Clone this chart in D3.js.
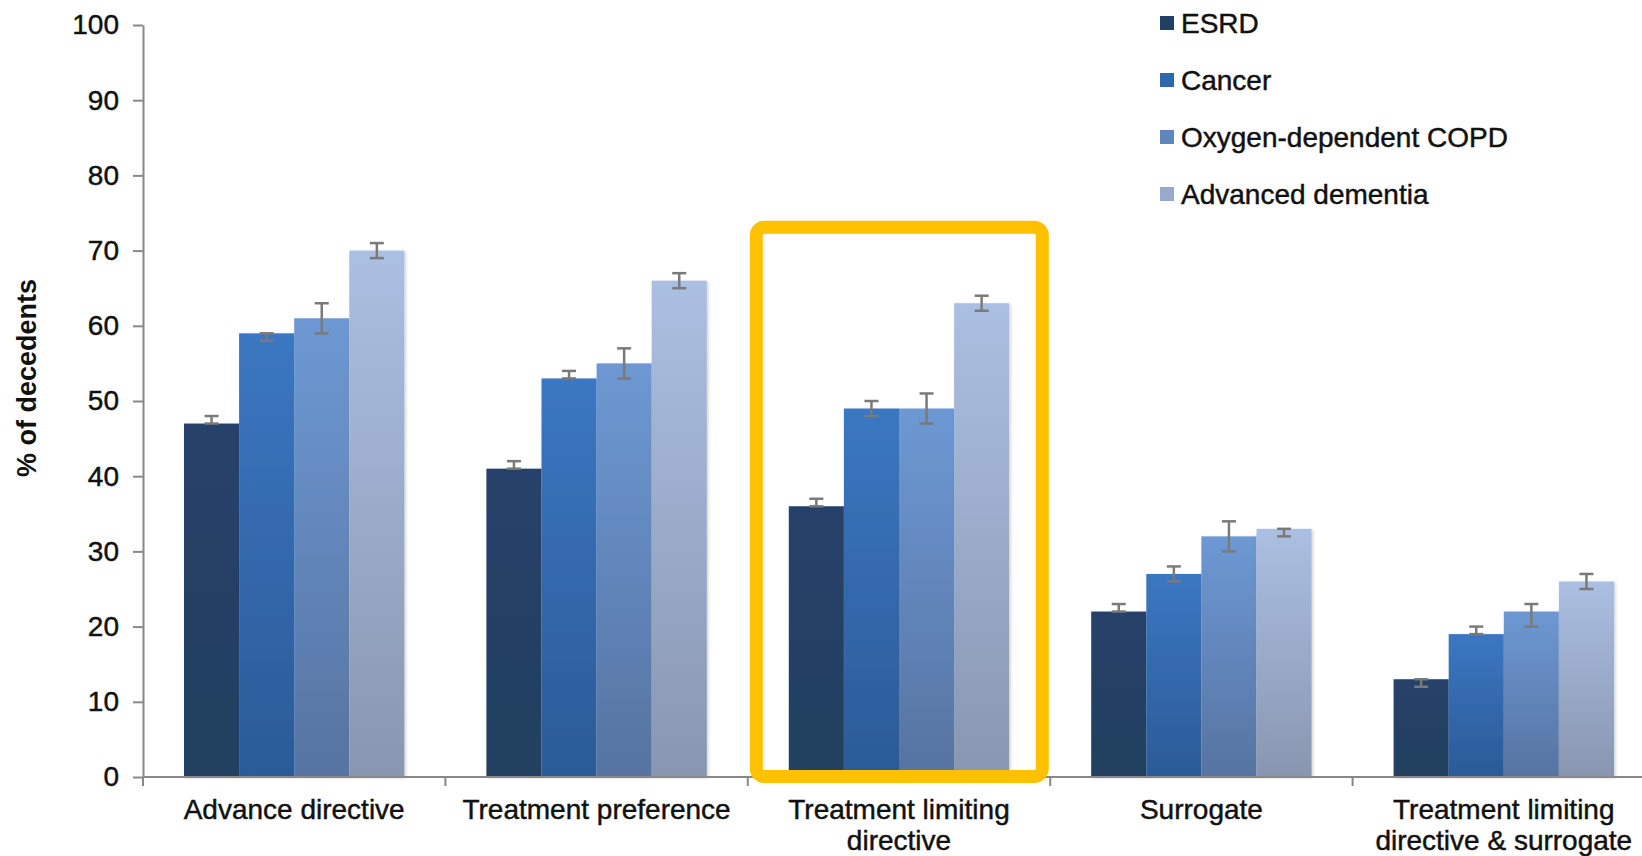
<!DOCTYPE html>
<html>
<head>
<meta charset="utf-8">
<script src="https://cdn.jsdelivr.net/npm/d3@7/dist/d3.min.js"></script>
<style>
  html, body { margin: 0; padding: 0; background: #fff; }
  svg { display: block; font-family: "Liberation Sans", Arial, sans-serif; }
</style>
</head>
<body>
<svg id="chart" width="1642" height="856"></svg>
<script>
// ---- Data ----
const categories = [
  ["Advance directive"],
  ["Treatment preference"],
  ["Treatment limiting", "directive"],
  ["Surrogate"],
  ["Treatment limiting", "directive & surrogate"]
];
const categoryKeys = ["Advance directive", "Treatment preference", "Treatment limiting directive", "Surrogate", "Treatment limiting directive & surrogate"];
const series = ["ESRD", "Cancer", "Oxygen-dependent COPD", "Advanced dementia"];

const esrd     = [47, 41, 36, 22, 13];
const cancer   = [59, 53, 49, 27, 19];
const copd     = [61, 55, 49, 32, 22];
const dementia = [70, 66, 63, 33, 26];

const esrdLow      = [47, 41, 36, 22, 12];
const esrdHigh     = [48, 42, 37, 23, 13];
const cancerLow    = [58, 53, 48, 26, 19];
const cancerHigh   = [59, 54, 50, 28, 20];
const copdLow      = [59, 53, 47, 30, 20];
const copdHigh     = [63, 57, 51, 34, 23];
const dementiaLow  = [69, 65, 62, 32, 25];
const dementiaHigh = [71, 67, 64, 33, 27];

const yTicks = [0, 10, 20, 30, 40, 50, 60, 70, 80, 90, 100];
const yTitle = "% of decedents";
const highlighted = "Treatment limiting directive";

// ---- Styles ----
const gradTop    = ["#26426a", "#3b77c2", "#6d98d3", "#abbfe2"];
const gradBottom = ["#233f5f", "#2b5a97", "#5673a1", "#8996b1"];
const legendCol  = ["#22405f", "#2f67ad", "#5f85bd", "#98a9cc"];
const textCol = "#111";

const valuesBySeries = [esrd, cancer, copd, dementia];
const lowBySeries = [esrdLow, cancerLow, copdLow, dementiaLow];
const highBySeries = [esrdHigh, cancerHigh, copdHigh, dementiaHigh];

const svg = d3.select("#chart");
const mLeft = 143, mTop = 25, mBottom = 777, mRight = 1655;

const x0 = d3.scaleBand().domain(categoryKeys).range([mLeft, mRight]).paddingInner(0).paddingOuter(0);
const groupPad = 41;
const x1 = d3.scaleBand().domain(series).range([groupPad, x0.bandwidth() - groupPad]).padding(0);
const y = d3.scaleLinear().domain([0, 100]).range([mBottom, mTop]);

const defs = svg.append("defs");
series.forEach((s, i) => {
  const g = defs.append("linearGradient").attr("id", "grad" + i)
    .attr("x1", 0).attr("y1", 0).attr("x2", 0).attr("y2", 1);
  g.append("stop").attr("offset", "0%").attr("stop-color", gradTop[i]);
  g.append("stop").attr("offset", "100%").attr("stop-color", gradBottom[i]);
});
const f = defs.append("filter").attr("id", "shadow").attr("x", "-10%").attr("y", "-10%").attr("width", "130%").attr("height", "120%");
f.append("feDropShadow").attr("dx", 1.5).attr("dy", 1).attr("stdDeviation", 1.5).attr("flood-color", "#000").attr("flood-opacity", 0.18);

function heavy(sel) {
  return sel.attr("fill", textCol).attr("stroke", textCol).attr("stroke-width", 0.45);
}

// ---- Y axis ----
const yAxis = svg.append("g").attr("transform", `translate(${mLeft},0)`)
  .call(d3.axisLeft(y).tickValues(yTicks).tickSize(10).tickPadding(14).tickSizeOuter(0));
yAxis.select(".domain").attr("stroke", "#888").attr("stroke-width", 2);
yAxis.selectAll(".tick line").attr("stroke", "#888").attr("stroke-width", 2);
heavy(yAxis.selectAll(".tick text").attr("font-size", 28)
  .attr("font-family", "Liberation Sans, Arial, sans-serif"));

svg.append("text")
  .attr("transform", `translate(36,378) rotate(-90)`)
  .attr("text-anchor", "middle")
  .attr("font-size", 27).attr("font-weight", "bold").attr("fill", textCol)
  .text(yTitle);

// ---- Bars ----
const groups = svg.append("g").selectAll("g").data(categoryKeys).join("g")
  .attr("transform", d => `translate(${x0(d)},0)`);

groups.each(function(cat, ci) {
  const g = d3.select(this);
  series.forEach((s, si) => {
    const v = valuesBySeries[si][ci];
    g.append("rect")
      .attr("x", x1(s)).attr("width", x1.bandwidth())
      .attr("y", y(v)).attr("height", y(0) - y(v))
      .attr("fill", `url(#grad${si})`)
      .attr("filter", "url(#shadow)");
  });
});

// ---- X axis ----
svg.append("line").attr("x1", mLeft).attr("x2", mRight).attr("y1", mBottom).attr("y2", mBottom)
  .attr("stroke", "#888").attr("stroke-width", 2);
const boundaries = categoryKeys.map(c => x0(c)).concat([x0(categoryKeys[categoryKeys.length - 1]) + x0.bandwidth()]);
svg.append("g").selectAll("line").data(boundaries).join("line")
  .attr("x1", d => d).attr("x2", d => d).attr("y1", mBottom).attr("y2", mBottom + 9)
  .attr("stroke", "#888").attr("stroke-width", 2);

// ---- Error bars ----
groups.each(function(cat, ci) {
  const g = d3.select(this);
  series.forEach((s, si) => {
    const cx = x1(s) + x1.bandwidth() / 2;
    const lo = lowBySeries[si][ci], hi = highBySeries[si][ci];
    const eb = g.append("g").attr("stroke", "#7a7a7a").attr("stroke-width", 2.5);
    eb.append("line").attr("x1", cx).attr("x2", cx).attr("y1", y(lo)).attr("y2", y(hi));
    eb.append("line").attr("x1", cx - 7).attr("x2", cx + 7).attr("y1", y(lo)).attr("y2", y(lo));
    eb.append("line").attr("x1", cx - 7).attr("x2", cx + 7).attr("y1", y(hi)).attr("y2", y(hi));
  });
});

// ---- Category labels ----
const labels = svg.append("g").selectAll("text").data(categories).join("text")
  .attr("x", (d, i) => x0(categoryKeys[i]) + x0.bandwidth() / 2)
  .attr("y", mBottom + 42)
  .attr("text-anchor", "middle")
  .attr("font-size", 28);
heavy(labels);
labels.each(function(lines) {
  const t = d3.select(this);
  lines.forEach((ln, k) => {
    t.append("tspan").attr("x", t.attr("x")).attr("dy", k === 0 ? 0 : 31).text(ln);
  });
});

// ---- Highlight box ----
const boxTop = 73.1;
svg.append("rect")
  .attr("x", x0(highlighted) + 8.5).attr("y", y(boxTop))
  .attr("width", 286).attr("height", y(0) - y(boxTop) - 0.5)
  .attr("rx", 8).attr("ry", 8)
  .attr("fill", "none").attr("stroke", "#ffc000").attr("stroke-width", 13);

// ---- Legend ----
const legend = svg.append("g").attr("transform", "translate(1160,23)");
const li = legend.selectAll("g").data(series).join("g")
  .attr("transform", (d, i) => `translate(0,${i * 57})`);
li.append("rect").attr("x", 0).attr("y", -7).attr("width", 14).attr("height", 14)
  .attr("fill", (d, i) => legendCol[i]);
heavy(li.append("text").attr("x", 21).attr("y", 0).attr("dy", "0.36em")
  .attr("font-size", 28).text(d => d));
</script>
</body>
</html>
